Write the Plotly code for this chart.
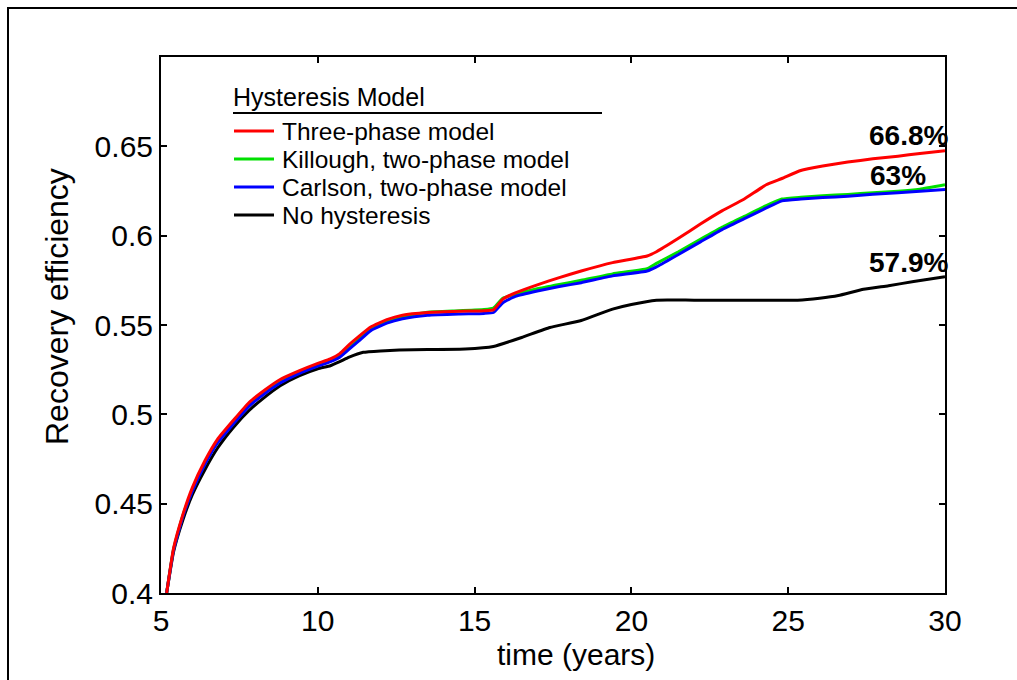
import plotly.graph_objects as go

# ---------------- data ----------------
series_names = ["Three-phase model", "Killough, two-phase model",
                "Carlson, two-phase model", "No hysteresis"]

t_hyst = [5.18, 5.4, 5.7, 6.0, 6.4, 6.8, 7.3, 7.8, 8.3, 8.8, 9.4, 10.0, 10.4, 10.7,
          11.0, 11.3, 11.7, 12.2, 12.7, 13.5, 14.5, 15.3, 15.6, 15.9, 16.3, 17.0,
          17.7, 18.4, 19.4, 20.5, 20.8, 21.5, 22.2, 22.9, 23.6, 24.3, 24.8, 25.4,
          26.1, 26.9, 27.7, 28.5, 29.2, 30.0]

re_three_phase = [0.400, 0.425, 0.444, 0.459, 0.474, 0.486, 0.4965, 0.5065, 0.5135,
                  0.5195, 0.5243, 0.5285, 0.531, 0.534, 0.539, 0.5435, 0.549, 0.553,
                  0.5555, 0.557, 0.5577, 0.558, 0.5585, 0.5645, 0.568, 0.5725, 0.5765,
                  0.5802, 0.5849, 0.5886, 0.591, 0.5985, 0.6065, 0.614, 0.6205, 0.6285,
                  0.632, 0.6365, 0.639, 0.6412, 0.643, 0.6445, 0.646, 0.6475]

re_killough = [0.400, 0.4245, 0.4435, 0.4575, 0.4725, 0.4845, 0.495, 0.505, 0.512,
               0.518, 0.5232, 0.5273, 0.5298, 0.5325, 0.537, 0.5418, 0.548, 0.552,
               0.5548, 0.5572, 0.558, 0.5587, 0.5595, 0.565, 0.5672, 0.5703, 0.5727,
               0.575, 0.5786, 0.5815, 0.5845, 0.591, 0.598, 0.6048, 0.6108, 0.6168,
               0.6205, 0.6215, 0.6223, 0.6231, 0.624, 0.6248, 0.626, 0.6285]

re_carlson = [0.400, 0.424, 0.443, 0.457, 0.472, 0.484, 0.4945, 0.5045, 0.5115,
              0.5175, 0.5228, 0.527, 0.5295, 0.532, 0.5365, 0.541, 0.547, 0.551,
              0.5535, 0.5555, 0.5562, 0.5565, 0.557, 0.5625, 0.566, 0.569, 0.5715,
              0.5737, 0.5775, 0.5802, 0.5825, 0.5895, 0.5965, 0.6035, 0.6095, 0.6155,
              0.6195, 0.6205, 0.6213, 0.6221, 0.6232, 0.624, 0.6248, 0.6258]

t_none = [5.18, 5.4, 5.7, 6.0, 6.4, 6.8, 7.3, 7.8, 8.3, 8.8, 9.4, 10.0, 10.4, 10.7,
          11.0, 11.45, 12.0, 12.6, 13.5, 14.7, 15.6, 16.5, 17.4, 18.4, 19.4, 20.0,
          20.8, 22.0, 25.3, 26.0, 26.6, 27.4, 28.2, 29.0, 30.0]
re_none = [0.400, 0.423, 0.441, 0.455, 0.469, 0.481, 0.4925, 0.502, 0.5095, 0.516,
           0.5215, 0.5255, 0.5272, 0.5295, 0.532, 0.5347, 0.5355, 0.536, 0.5363,
           0.5366, 0.538, 0.543, 0.5486, 0.5525, 0.5589, 0.5615, 0.5639, 0.5639,
           0.5639, 0.565, 0.5665, 0.570, 0.572, 0.5743, 0.577]

final_labels = ["66.8%", "63%", "57.9%"]
x_ticks = [5, 10, 15, 20, 25, 30]
y_ticks = [0.4, 0.45, 0.5, 0.55, 0.6, 0.65]
y_tick_text = ["0.4", "0.45", "0.5", "0.55", "0.6", "0.65"]

colors = ["#ff0000", "#00e000", "#0000ff", "#000000"]

# ---------------- layout geometry (pixels) ----------------
W, H = 1017, 680
L, R, T, B = 161, 945, 57, 593
FONT = "Liberation Sans, Arial, sans-serif"


def px(x):
    return (x - L) / (R - L)


def py(y):
    return (B - y) / (B - T)


fig = go.Figure()
series = [(t_none, re_none, 3), (t_hyst, re_killough, 1),
          (t_hyst, re_carlson, 2), (t_hyst, re_three_phase, 0)]
for xs, ys, idx in series:
    fig.add_trace(go.Scatter(x=xs, y=ys, mode="lines", name=series_names[idx],
                             line=dict(color=colors[idx], width=3, shape="spline",
                                       smoothing=0.4),
                             showlegend=False))

axis_common = dict(showline=True, linecolor="black", linewidth=2, mirror="allticks",
                   ticks="inside", ticklen=6, tickwidth=1.5, tickcolor="black",
                   showgrid=False, zeroline=False,
                   tickfont=dict(family=FONT, size=30, color="black"))

fig.update_xaxes(range=[5, 30], tickvals=x_ticks, ticktext=[str(v) for v in x_ticks],
                 **axis_common)
fig.update_yaxes(range=[0.4, 0.7], tickvals=y_ticks, ticktext=y_tick_text,
                 **axis_common)

annotations = []
shapes = []

# axis titles
annotations.append(dict(text="time (years)", x=px(576), y=py(654), xref="paper",
                        yref="paper", showarrow=False, xanchor="center",
                        yanchor="middle",
                        font=dict(family=FONT, size=30, color="black")))
annotations.append(dict(text="Recovery efficiency", x=px(57), y=py(307), xref="paper",
                        yref="paper", showarrow=False, textangle=-90, xanchor="center",
                        yanchor="middle", font=dict(family=FONT, size=32, color="black")))

# legend (manual, MATLAB-like)
annotations.append(dict(text="Hysteresis Model", x=px(231), y=py(97), xref="paper",
                        yref="paper", showarrow=False, xanchor="left", yanchor="middle",
                        font=dict(family=FONT, size=25, color="black")))
shapes.append(dict(type="line", xref="paper", yref="paper", x0=px(233), x1=px(602),
                   y0=py(113), y1=py(113), line=dict(color="black", width=2)))
legend_y = [131, 159, 187, 215]
for i, name in enumerate(series_names):
    shapes.append(dict(type="line", xref="paper", yref="paper", x0=px(234), x1=px(274),
                       y0=py(legend_y[i]), y1=py(legend_y[i]),
                       line=dict(color=colors[i], width=3)))
    annotations.append(dict(text=name, x=px(280), y=py(legend_y[i]), xref="paper",
                            yref="paper", showarrow=False, xanchor="left",
                            yanchor="middle",
                            font=dict(family=FONT, size=24.5, color="black")))

# end value labels
label_pos = [(950, 136, "right"), (898, 176, "center"), (950, 262, "right")]
for (lx, ly, anc), txt in zip(label_pos, final_labels):
    annotations.append(dict(text="<b>" + txt + "</b>", x=px(lx), y=py(ly), xref="paper",
                            yref="paper", showarrow=False, xanchor=anc,
                            yanchor="middle",
                            font=dict(family=FONT, size=28, color="black")))

# outer frame
shapes.append(dict(type="rect", xref="paper", yref="paper", x0=px(8), x1=px(1030),
                   y0=py(700), y1=py(8), line=dict(color="black", width=2),
                   fillcolor="rgba(0,0,0,0)", layer="above"))

fig.update_layout(width=W, height=H, margin=dict(l=L, r=W - R, t=T, b=H - B),
                  paper_bgcolor="white", plot_bgcolor="white",
                  annotations=annotations, shapes=shapes, showlegend=False,
                  font=dict(family=FONT, color="black"))

fig.write_html("out.html")
